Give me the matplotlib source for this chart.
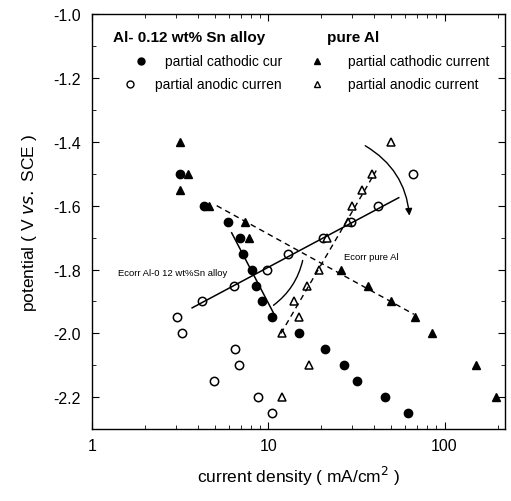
import numpy as np
import matplotlib
matplotlib.use("Agg")
import matplotlib.pyplot as plt

plt.rcParams['font.family'] = ['Liberation Sans', 'DejaVu Sans']

# Al-0.12 wt% Sn alloy, partial cathodic current (filled circles)
alloy_cat_i = [3.15, 4.3, 5.9, 6.9, 7.2, 8.1, 8.5, 9.2, 10.5, 15, 21, 27, 32, 46, 62]
alloy_cat_E = [-1.5, -1.6, -1.65, -1.7, -1.75, -1.8, -1.85, -1.9, -1.95, -2.0, -2.05, -2.1, -2.15, -2.2, -2.25]

# Al-0.12 wt% Sn alloy, partial anodic current (open circles)
alloy_an_i = [3.05, 3.25, 6.5, 6.8, 4.9, 8.7, 10.5, 4.2, 6.4, 9.9, 13, 20.5, 29.5, 42, 66]
alloy_an_E = [-1.95, -2.0, -2.05, -2.1, -2.15, -2.2, -2.25, -1.9, -1.85, -1.8, -1.75, -1.7, -1.65, -1.6, -1.5]

# pure Al, partial cathodic current (filled triangles)
al_cat_i = [3.15, 3.5, 3.15, 4.6, 7.4, 7.8, 26, 37, 50, 68, 85, 150, 195]
al_cat_E = [-1.4, -1.5, -1.55, -1.6, -1.65, -1.7, -1.8, -1.85, -1.9, -1.95, -2.0, -2.1, -2.2]

# pure Al, partial anodic current (open triangles)
al_an_i = [50, 39, 34, 30, 28.5, 21.5, 19.5, 16.5, 14, 15, 12, 17, 12]
al_an_E = [-1.4, -1.5, -1.55, -1.6, -1.65, -1.7, -1.8, -1.85, -1.9, -1.95, -2.0, -2.1, -2.2]

# Tafel fit lines
alloy_an_fit_i = [3.7, 55]
alloy_an_fit_E = [-1.92, -1.575]
alloy_cat_fit_i = [6.2, 10.8]
alloy_cat_fit_E = [-1.685, -1.94]
al_cat_fit_i = [5.1, 67]
al_cat_fit_E = [-1.6, -1.94]
al_an_fit_i = [11.8, 41]
al_an_fit_E = [-2.0, -1.49]

fig = plt.figure(figsize=(5.11, 5.02), dpi=100)
ax = fig.add_axes([0.18, 0.143, 0.808, 0.827])

ms = 6
ax.plot(alloy_cat_i, alloy_cat_E, 'o', color='black', ms=ms, ls='none')
ax.plot(alloy_an_i, alloy_an_E, 'o', mfc='white', mec='black', mew=1.1, ms=ms, ls='none')
ax.plot(al_cat_i, al_cat_E, '^', color='black', ms=ms, ls='none')
ax.plot(al_an_i, al_an_E, '^', mfc='white', mec='black', mew=1.1, ms=ms, ls='none')

ax.plot(alloy_an_fit_i, alloy_an_fit_E, '-', color='black', lw=1.1)
ax.plot(alloy_cat_fit_i, alloy_cat_fit_E, '-', color='black', lw=1.1)
ax.plot(al_cat_fit_i, al_cat_fit_E, '--', color='black', lw=1.0, dashes=(4, 3))
ax.plot(al_an_fit_i, al_an_fit_E, '--', color='black', lw=1.0, dashes=(4, 3))

# curved arrows
ax.annotate('', xy=(10.4, -1.917), xytext=(15.8, -1.763),
            arrowprops=dict(arrowstyle='-', color='black', lw=1.0,
                            connectionstyle='arc3,rad=-0.2'))
ax.annotate('', xy=(63.4, -1.64), xytext=(34.4, -1.408),
            arrowprops=dict(arrowstyle='-|>', color='black', lw=1.0,
                            mutation_scale=10, connectionstyle='arc3,rad=-0.27'))

ax.text(1.40, -1.81, 'Ecorr Al-0 12 wt%Sn alloy', fontsize=6.8, va='center')
ax.text(26.9, -1.76, 'Ecorr pure Al', fontsize=6.8, va='center')

# legend block
ax.text(0.051, 0.945, 'Al- 0.12 wt% Sn alloy', transform=ax.transAxes,
        fontsize=11, fontweight='bold', va='center')
ax.text(0.569, 0.945, 'pure Al', transform=ax.transAxes,
        fontsize=11, fontweight='bold', va='center')
ax.plot([0.119], [0.887], 'o', color='black', ms=5, transform=ax.transAxes)
ax.text(0.177, 0.887, 'partial cathodic cur', transform=ax.transAxes, fontsize=10, va='center')
ax.plot([0.092], [0.831], 'o', mfc='white', mec='black', ms=5, transform=ax.transAxes)
ax.text(0.153, 0.831, 'partial anodic curren', transform=ax.transAxes, fontsize=10, va='center')
ax.plot([0.545], [0.887], '^', color='black', ms=5, transform=ax.transAxes)
ax.text(0.620, 0.887, 'partial cathodic current', transform=ax.transAxes, fontsize=10, va='center')
ax.plot([0.545], [0.831], '^', mfc='white', mec='black', ms=5, transform=ax.transAxes)
ax.text(0.620, 0.831, 'partial anodic current', transform=ax.transAxes, fontsize=10, va='center')

ax.set_xscale('log')
ax.set_xlim(1, 220)
ax.set_ylim(-2.3, -1.0)
ax.set_xticks([1, 10, 100])
ax.set_xticklabels(['1', '10', '100'])
ax.set_yticks([-2.2, -2.0, -1.8, -1.6, -1.4, -1.2, -1.0])
ax.set_yticklabels(['-2.2', '-2.0', '-1.8', '-1.6', '-1.4', '-1.2', '-1.0'])
ax.set_yticks(np.arange(-2.3, -1.0, 0.1), minor=True)
ax.tick_params(which='both', direction='in', top=True, right=True, labelsize=11.5)
ax.tick_params(which='major', length=5)
ax.tick_params(which='minor', length=3)
ax.tick_params(axis='x', pad=6)
ax.tick_params(axis='y', pad=8)
for s in ax.spines.values():
    s.set_linewidth(1.0)

ax.set_xlabel('current density ( mA/cm$^{2}$ )', fontsize=12.5, labelpad=8)
ax.set_ylabel('potential ( V $\\mathit{vs.}$ SCE )', fontsize=12.5, labelpad=10)

fig.savefig('out.png', dpi=100)
